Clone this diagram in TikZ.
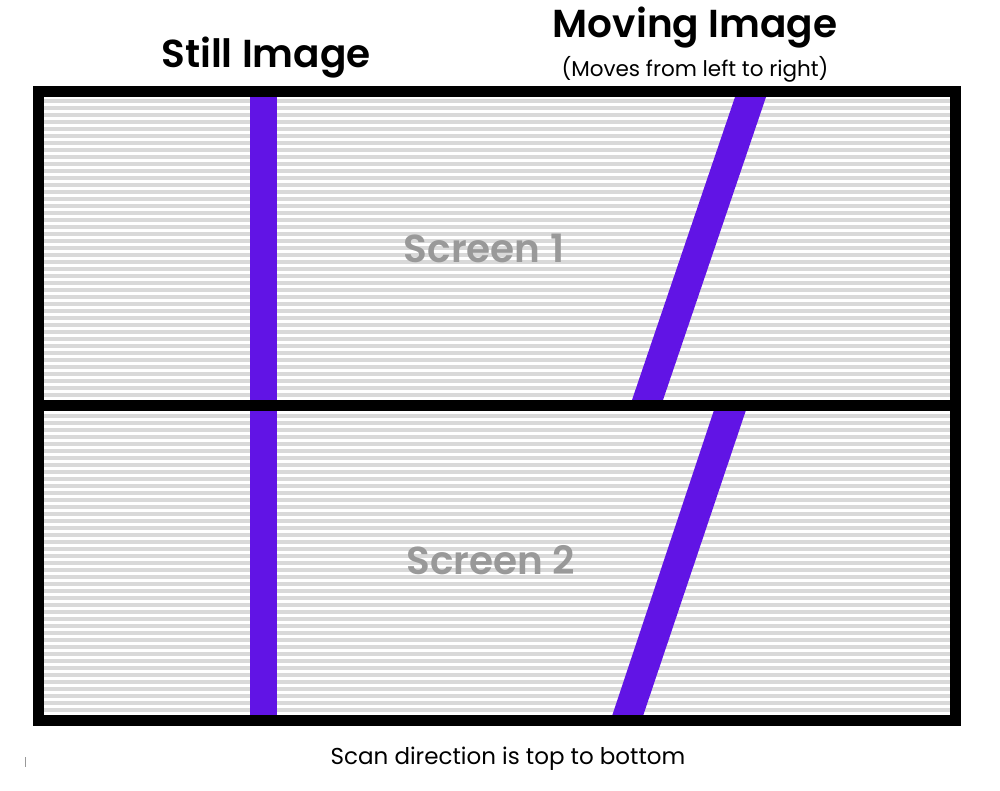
\documentclass[tikz,border=0pt]{standalone}
\usepackage{fontspec}
\setmainfont{Poppins}[BoldFont={Poppins SemiBold}]
\usetikzlibrary{positioning}
\definecolor{stripegray}{rgb}{0.85,0.85,0.85}
\definecolor{labelgray}{rgb}{0.6,0.6,0.6}
\definecolor{barpurple}{rgb}{0.38,0.08,0.90}
\tikzset{
  title/.style={font=\fontsize{39}{40}\selectfont\bfseries, inner sep=0pt},
  screenlabel/.style={font=\fontsize{39}{40}\selectfont\bfseries, text=labelgray, inner sep=0pt},
  frame/.style={line width=11pt, draw=black}
}
\begin{document}
\begin{tikzpicture}[line cap=butt, line join=miter, x=1pt, y=-1pt]
\useasboundingbox (0,0) rectangle (1000,790);
% scan lines
\foreach \y in {0,...,88}
  \fill[stripegray] (44,{99+7*\y}) rectangle (950,{102.5+7*\y});
% still image bar
\fill[barpurple] (250,97) rectangle (277,716);
% moving image bar, one slice per screen
\fill[barpurple] (735,97) -- (766,97) -- (663,400) -- (632,400) -- cycle;
\fill[barpurple] (714,410) -- (746,410) -- (643,716) -- (612,716) -- cycle;
% screens
\draw[frame] (38.5,91.5) rectangle (955.5,720.5);
\draw[frame] (38.5,405) -- (955.5,405);
% labels
\node[screenlabel] (screen1) at (484,248) {Screen 1};
\node[screenlabel] (screen2) at (491,560) {Screen 2};
\node[title] (still) at (266,58) {Still Image};
\node[title] (moving) at (695,28) {Moving Image};
\node[font=\fontsize{21.5}{22}\selectfont, inner sep=0pt, below=7pt of moving] (moves) {(Moves from left to right)};
\node[font=\fontsize{23}{24}\selectfont, inner sep=0pt] (scan) at (508,759) {Scan direction is top to bottom};
\draw[labelgray, line width=0.8pt] (25,757) -- (25,767);
\end{tikzpicture}
\end{document}
